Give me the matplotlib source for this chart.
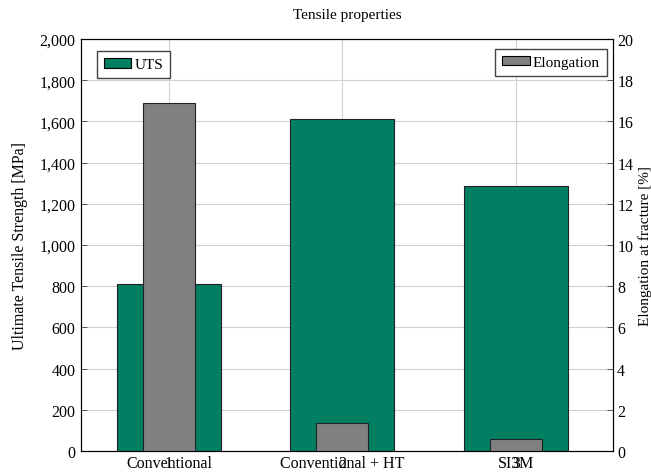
import matplotlib
matplotlib.use("Agg")
import matplotlib.pyplot as plt
from matplotlib.ticker import FuncFormatter, MultipleLocator
from matplotlib.patches import Patch
import matplotlib.transforms as mtransforms

categories = ["Conventional", "Conventional + HT", "SI3M"]
positions = [1, 2, 3]
uts = [810, 1610, 1285]
elongation = [16.9, 1.35, 0.6]

plt.rcParams['font.family'] = ['Liberation Serif', 'DejaVu Serif']
plt.rcParams['font.size'] = 11.5

green = "#007f62"
gray = "#808080"

fig = plt.figure(figsize=(6.51, 4.77), dpi=100)
ax = fig.add_axes([0.1244, 0.0524, 0.8172, 0.8637])
ax2 = ax.twinx()

ax.bar(positions, uts, width=0.6, color=green, edgecolor="#222222", linewidth=0.8, zorder=3)
ax2.bar(positions, elongation, width=0.3, color=gray, edgecolor="#222222", linewidth=0.8, zorder=3)

ax.set_xlim(0.493, 3.56)
ax.set_ylim(0, 2000)
ax2.set_ylim(0, 20)
ax.set_xticks(positions)
ax.set_xticklabels(categories)
ax.yaxis.set_major_locator(MultipleLocator(200))
ax.yaxis.set_major_formatter(FuncFormatter(lambda v, p: f"{int(v):,}"))
ax2.yaxis.set_major_locator(MultipleLocator(2))

ax.grid(True, color="#d0d0d0", linewidth=0.8, zorder=0)
ax.set_axisbelow(True)
for a in (ax, ax2):
    a.tick_params(direction="in", length=4, width=0.6, color="#444444", pad=4)
    for s in a.spines.values():
        s.set_linewidth(0.8)
ax2.tick_params(axis="y", pad=3)
ax.tick_params(axis="x", length=0, pad=3)

# overlaid numeric tick labels from the secondary axis
trans = mtransforms.blended_transform_factory(ax.transData, ax.transAxes)
for p in positions:
    ax.text(p, -0.009, str(p), transform=trans, ha="center", va="top", fontsize=11.5)

ax.set_ylabel("Ultimate Tensile Strength [MPa]", labelpad=8)
ax2.set_ylabel("Elongation at fracture [%]", fontsize=11)
ax2.yaxis.set_label_coords(1.06, 0.5)
ax2.yaxis.label.set_verticalalignment("center")
ax.set_title("Tensile properties", fontsize=11, pad=15)

ax.legend(handles=[Patch(facecolor=green, edgecolor="black", linewidth=0.8, label="UTS")],
          loc="upper left", bbox_to_anchor=(0.03, 0.97), borderaxespad=0, fancybox=False,
          edgecolor="#444444", framealpha=1, handlelength=1.8, handleheight=0.6,
          handletextpad=0.2, borderpad=0.45, fontsize=11)
ax2.legend(handles=[Patch(facecolor=gray, edgecolor="black", linewidth=0.8, label="Elongation")],
           loc="upper right", bbox_to_anchor=(0.988, 0.976), borderaxespad=0, fancybox=False,
           edgecolor="#444444", framealpha=1, handlelength=1.8, handleheight=0.6,
           handletextpad=0.2, borderpad=0.45, fontsize=11)

fig.savefig("out.png", dpi=100)
